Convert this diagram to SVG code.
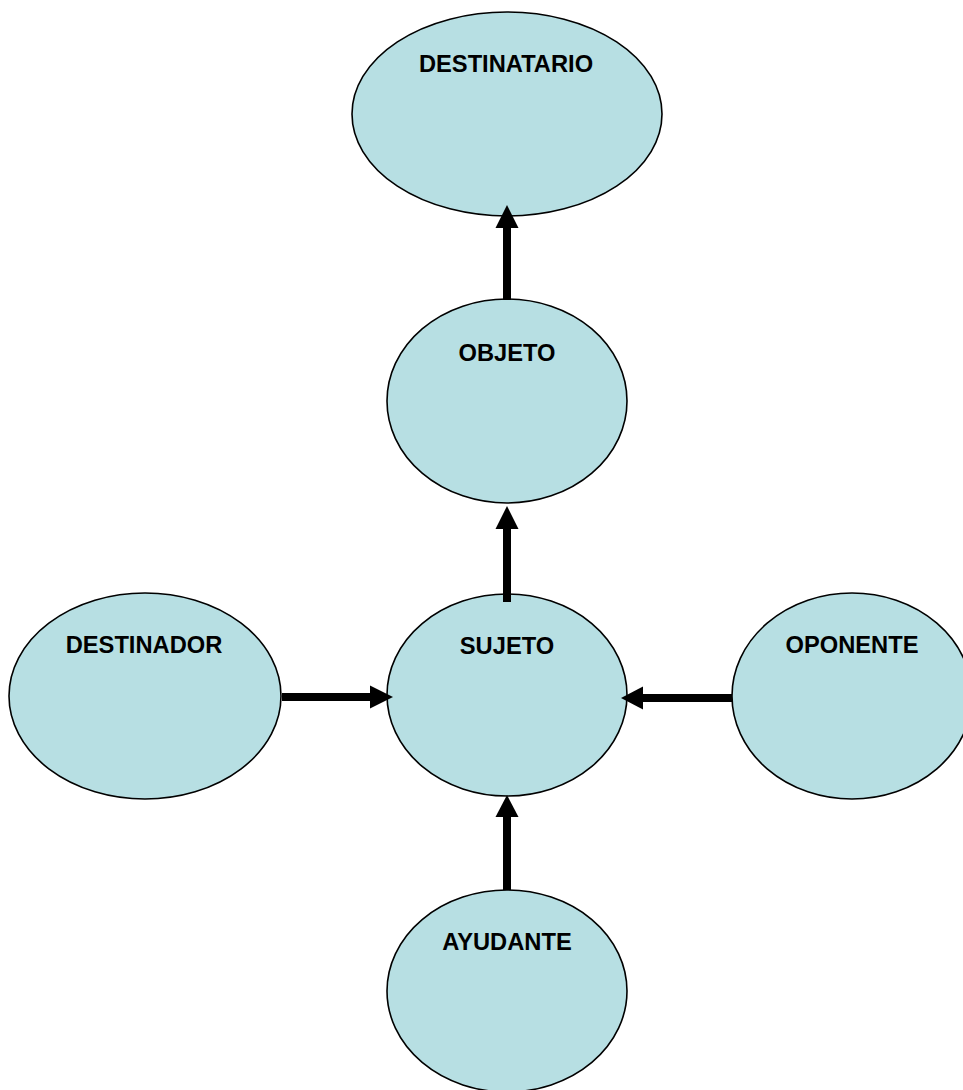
<svg xmlns="http://www.w3.org/2000/svg" width="963" height="1090" viewBox="0 0 963 1090">
<style>
.node{fill:#B7DFE3;stroke:#000;stroke-width:1.6}
.lbl{font-family:"Liberation Sans",Arial,sans-serif;font-weight:bold;font-size:23.7px;fill:#000;text-anchor:middle}
.shaft{stroke:#000;stroke-width:8;fill:none}
.head{fill:#000}
</style>
<rect width="963" height="1090" fill="#fff"/>
<g id="destinatario"><ellipse class="node" cx="507" cy="114" rx="155" ry="102"/><text class="lbl" x="506" y="72">DESTINATARIO</text></g>
<g id="objeto"><ellipse class="node" cx="507" cy="401" rx="120" ry="102"/><text class="lbl" x="507" y="361">OBJETO</text></g>
<g id="sujeto"><ellipse class="node" cx="507" cy="695" rx="120" ry="101"/><text class="lbl" x="507" y="654">SUJETO</text></g>
<g id="destinador"><ellipse class="node" cx="145" cy="696" rx="136" ry="103"/><text class="lbl" x="144" y="653">DESTINADOR</text></g>
<g id="oponente"><ellipse class="node" cx="852" cy="696" rx="120" ry="103"/><text class="lbl" x="852" y="653">OPONENTE</text></g>
<g id="ayudante"><ellipse class="node" cx="507" cy="991" rx="120" ry="101"/><text class="lbl" x="507" y="950">AYUDANTE</text></g>
<g id="connectors">
<line class="shaft" x1="507" y1="300" x2="507" y2="226"/><polygon class="head" points="507,205 495.5,228 518.5,228"/>
<line class="shaft" x1="507" y1="602" x2="507" y2="527"/><polygon class="head" points="507,506 495.5,529 518.5,529"/>
<line class="shaft" x1="282" y1="697" x2="372" y2="697"/><polygon class="head" points="393,697 370,685.5 370,708.5"/>
<line class="shaft" x1="732" y1="698" x2="641" y2="698"/><polygon class="head" points="621,698 643,686.5 643,709.5"/>
<line class="shaft" x1="507" y1="890" x2="507" y2="815"/><polygon class="head" points="507,795 495.5,817 518.5,817"/>
</g>
</svg>
